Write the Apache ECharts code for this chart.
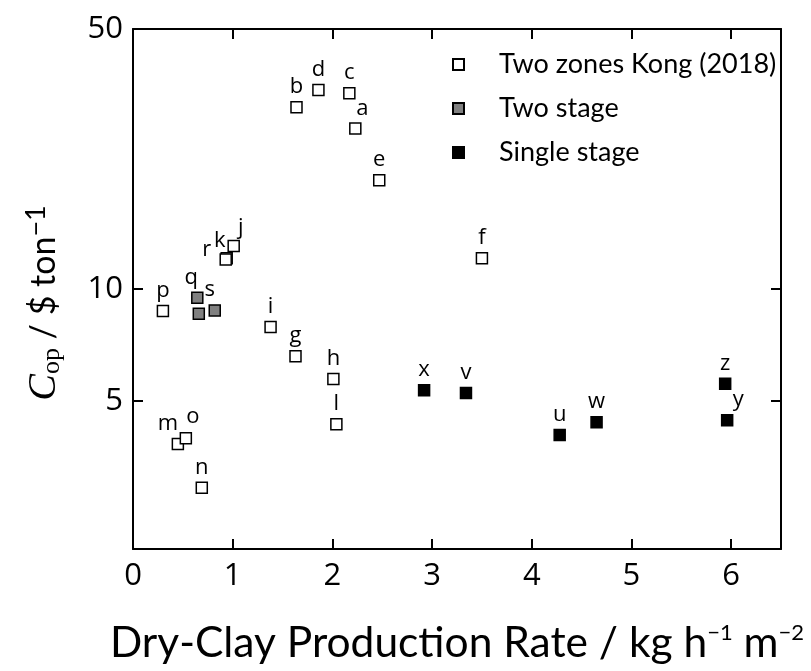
<!DOCTYPE html>
<html>
<head>
<meta charset="utf-8">
<script src="https://cdn.jsdelivr.net/npm/echarts@6/dist/echarts.min.js"></script>
<style>html,body{margin:0;padding:0;background:#fff;}#c{width:811px;height:671px;}</style>
</head>
<body>
<div id="c"></div>
<script>
// ---- data ----
const twoZonesNames = ['a','b','c','d','e','f','g','h','i','j','k','r','l','m','n','o','p'];
const twoZonesX = [2.23,1.64,2.17,1.86,2.47,3.50,1.63,2.01,1.38,1.01,0.94,0.93,2.04,0.45,0.69,0.53,0.30];
const twoZonesY = [27.0,30.8,33.6,34.3,19.6,12.1,6.6,5.73,7.9,13.05,12.1,12.0,4.33,3.83,2.92,3.97,8.73];

const twoStageNames = ['q','s',''];
const twoStageX = [0.645,0.82,0.66];
const twoStageY = [9.48,8.76,8.58];

const singleNames = ['x','v','u','w','z','y'];
const singleX = [2.92,3.34,4.28,4.65,5.94,5.96];
const singleY = [5.34,5.25,4.05,4.38,5.56,4.44];

const xTicks = [0,1,2,3,4,5,6];
const yTicks = [5,10,50];
const legendNames = ['Two zones Kong (2018)','Two stage','Single stage'];

// ---- label tweaks (style only) ----
const labelOffsets = {a:[7,0], m:[-10,0], o:[7,-1], q:[-6,0], s:[-5,0], r:[-19,10], k:[-7,3], j:[7,2], y:[11,0]};

function build(names, xs, ys){
  return names.map((n,i)=>({name:n, value:[xs[i],ys[i]], label:{offset: labelOffsets[n] || [0,0]}}));
}

const chart = echarts.init(document.getElementById('c'), null, {renderer:'canvas'});
const axisLine = {show:true, onZero:false, lineStyle:{color:'#000', width:2}};
const tick = {show:true, inside:true, length:10, lineStyle:{color:'#000', width:2}};
const tickFont = {fontFamily:'Open Sans', fontSize:31, color:'#000'};

function scatter(name, data, fill){
  return {
    name, type:'scatter', data, symbol:'rect', symbolSize:11,
    itemStyle:{color:fill, borderColor:'#000', borderWidth:1.5, opacity:1},
    label:{show:true, position:'top', distance:3, formatter:p=>p.name,
           fontFamily:'Open Sans', fontSize:22, color:'#000'},
    emphasis:{disabled:true}
  };
}

chart.setOption({
  animation:false,
  backgroundColor:'#fff',
  grid:{left:133, right:30, top:29, bottom:122},
  legend:{
    data:legendNames, orient:'vertical', left:447, top:46,
    icon:'rect', itemWidth:11, itemHeight:11, itemGap:17,
    textStyle:{fontFamily:'Lato', fontSize:27, color:'#000', padding:[0,0,0,30]}
  },
  xAxis:[{
    type:'value', min:0, max:6.5, interval:1, position:'bottom',
    axisLine, axisTick:{...tick, customValues:xTicks}, splitLine:{show:false},
    axisLabel:{...tickFont, margin:12, customValues:xTicks, formatter:v=>String(v)},
    name:'{a|Dry-Clay Production Rate / kg h}{sup|−1}{a| m}{sup|−2}',
    nameLocation:'middle', nameGap:73,
    nameTextStyle:{rich:{
      a:{fontFamily:'Lato', fontSize:42.5, color:'#000', lineHeight:43},
      sup:{fontFamily:'Lato', fontSize:22, color:'#000', lineHeight:22, verticalAlign:'top'}
    }}
  },{
    type:'value', min:0, max:6.5, interval:1, position:'top',
    axisLine, axisTick:{...tick, customValues:xTicks}, axisLabel:{show:false}, splitLine:{show:false}
  }],
  yAxis:[{
    type:'log', logBase:10, min:2, max:50, position:'left',
    axisLine, axisTick:{...tick, customValues:yTicks}, minorTick:{show:false},
    splitLine:{show:false}, minorSplitLine:{show:false},
    axisLabel:{...tickFont, margin:10, customValues:yTicks, formatter:v=>String(Math.round(v))},
    name:'{it|C}{sub|op}{a| / $ ton}{sup|−1}',
    nameLocation:'middle', nameRotate:90, nameGap:68,
    nameTextStyle:{padding:[0,28,0,0], rich:{
      it:{fontFamily:'Liberation Serif', fontStyle:'italic', fontSize:40, color:'#000', lineHeight:42},
      sub:{fontFamily:'Liberation Serif', fontSize:26, color:'#000', lineHeight:26, verticalAlign:'bottom'},
      a:{fontFamily:'Lato', fontSize:34, color:'#000', lineHeight:42},
      sup:{fontFamily:'Lato', fontSize:27, color:'#000', lineHeight:27, verticalAlign:'top'}
    }}
  },{
    type:'log', logBase:10, min:2, max:50, position:'right',
    axisLine, axisTick:{...tick, customValues:yTicks}, axisLabel:{show:false},
    splitLine:{show:false}, minorTick:{show:false}
  }],
  series:[
    scatter(legendNames[0], build(twoZonesNames, twoZonesX, twoZonesY), '#fff'),
    scatter(legendNames[1], build(twoStageNames, twoStageX, twoStageY), '#808080'),
    scatter(legendNames[2], build(singleNames, singleX, singleY), '#000')
  ]
});
</script>
</body>
</html>
